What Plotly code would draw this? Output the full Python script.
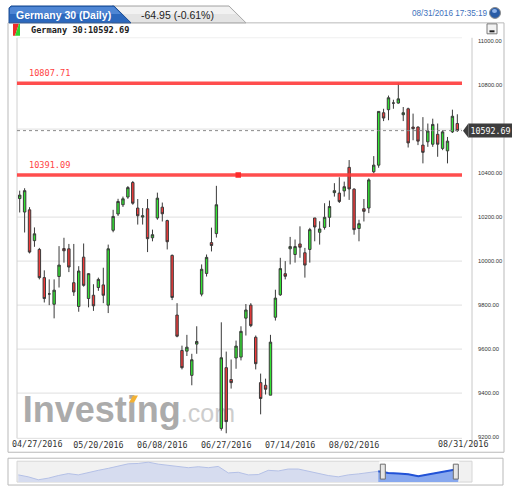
import plotly.graph_objects as go

W, H = 512, 494
def px(x): return x / W
def py(y): return 1 - y / H

# ---------------- data ----------------
instrument = "Germany 30"
change_text = "-64.95 (-0.61%)"
timestamp = "08/31/2016 17:35:19"
last_price = 10592.69
resistance = 10807.71
support = 10391.09

dates = [
    "04/27/2016", "04/28/2016", "04/29/2016",
    "05/02/2016", "05/03/2016", "05/04/2016", "05/05/2016", "05/06/2016",
    "05/09/2016", "05/10/2016", "05/11/2016", "05/12/2016", "05/13/2016",
    "05/17/2016", "05/18/2016", "05/19/2016", "05/20/2016",
    "05/23/2016", "05/24/2016", "05/25/2016", "05/26/2016", "05/27/2016",
    "05/30/2016", "05/31/2016", "06/01/2016", "06/02/2016", "06/03/2016",
    "06/06/2016", "06/07/2016", "06/08/2016", "06/09/2016", "06/10/2016",
    "06/13/2016", "06/14/2016", "06/15/2016", "06/16/2016", "06/17/2016",
    "06/20/2016", "06/21/2016", "06/22/2016", "06/23/2016", "06/24/2016",
    "06/27/2016", "06/28/2016", "06/29/2016", "06/30/2016", "07/01/2016",
    "07/04/2016", "07/05/2016", "07/06/2016", "07/07/2016", "07/08/2016",
    "07/11/2016", "07/12/2016", "07/13/2016", "07/14/2016", "07/15/2016",
    "07/18/2016", "07/19/2016", "07/20/2016", "07/21/2016", "07/22/2016",
    "07/25/2016", "07/26/2016", "07/27/2016", "07/28/2016", "07/29/2016",
    "08/01/2016", "08/02/2016", "08/03/2016", "08/04/2016", "08/05/2016",
    "08/08/2016", "08/09/2016", "08/10/2016", "08/11/2016", "08/12/2016",
    "08/15/2016", "08/16/2016", "08/17/2016", "08/18/2016", "08/19/2016",
    "08/22/2016", "08/23/2016", "08/24/2016", "08/25/2016", "08/26/2016",
    "08/29/2016", "08/30/2016", "08/31/2016",
]
opens = [10284, 10223, 10233, 10093, 10053, 9925, 9851, 9804, 9930, 10057,
         10056, 9902, 9794, 10018, 9830, 9845, 9880, 9892, 9800, 10140,
         10214, 10256, 10291, 10357, 10241, 10200, 10238, 10106, 10196, 10245,
         10184, 10026, 9755, 9594, 9591, 9481, 9623, 9850, 9944, 10084,
         10125, 9240, 9516, 9462, 9560, 9564, 9741, 9800, 9654, 9448,
         9436, 9391, 9745, 9847, 9943, 10056, 10030, 10078, 10038, 10053,
         10196, 10131, 10153, 10199, 10311, 10309, 10319, 10426, 10327, 10148,
         10238, 10241, 10406, 10436, 10674, 10688, 10718, 10718, 10665, 10692,
         10609, 10609, 10527, 10542, 10531, 10576, 10512, 10501, 10587, 10625]
highs = [10320, 10331, 10245, 10153, 10060, 9958, 9917, 9917, 10068, 10106,
         10078, 10078, 9977, 10080, 9945, 9895, 9925, 9970, 10075, 10233,
         10283, 10293, 10341, 10364, 10282, 10241, 10282, 10143, 10311, 10266,
         10188, 10030, 9809, 9616, 9665, 9579, 9704, 9985, 10030, 10152,
         10342, 9722, 9589, 9553, 9639, 9704, 9805, 9809, 9662, 9489,
         9466, 9665, 9870, 10015, 10000, 10110, 10098, 10158, 10060, 10151,
         10196, 10181, 10263, 10275, 10354, 10381, 10361, 10459, 10331, 10188,
         10282, 10376, 10477, 10680, 10692, 10752, 10733, 10807, 10700, 10697,
         10670, 10612, 10654, 10625, 10647, 10625, 10594, 10564, 10688, 10667]
lows = [10221, 10130, 10035, 10065, 9917, 9812, 9800, 9740, 9880, 9993,
        9950, 9842, 9770, 9884, 9790, 9774, 9865, 9809, 9764, 10131,
        10205, 10246, 10283, 10256, 10166, 10166, 10041, 10090, 10188, 10180,
        10053, 9823, 9654, 9508, 9569, 9436, 9579, 9840, 9930, 10044,
        10107, 9230, 9218, 9421, 9511, 9549, 9662, 9700, 9508, 9304,
        9394, 9391, 9730, 9842, 9917, 9985, 9993, 10015, 9925, 9993,
        10090, 10075, 10143, 10155, 10293, 10264, 10293, 10278, 10120, 10090,
        10180, 10218, 10399, 10424, 10636, 10640, 10692, 10715, 10636, 10516,
        10549, 10527, 10444, 10519, 10519, 10474, 10504, 10444, 10582, 10587]
closes = [10300, 10320, 10041, 10124, 9925, 9830, 9851, 9868, 9982, 10047,
          9973, 9860, 9955, 9890, 9943, 9797, 9917, 9845, 10056, 10203,
          10271, 10283, 10334, 10263, 10206, 10206, 10102, 10120, 10286, 10215,
          10088, 9835, 9659, 9516, 9609, 9552, 9635, 9963, 10017, 10071,
          10256, 9561, 9271, 9448, 9614, 9681, 9778, 9707, 9534, 9376,
          9418, 9632, 9832, 9966, 9931, 10066, 10066, 10063, 9982, 10143,
          10155, 10146, 10199, 10248, 10320, 10271, 10338, 10328, 10143, 10170,
          10226, 10369, 10436, 10680, 10650, 10742, 10718, 10737, 10674, 10537,
          10602, 10545, 10494, 10591, 10621, 10531, 10587, 10545, 10658, 10592.69]

date_ticks = ["05/20/2016", "06/08/2016", "06/27/2016", "07/14/2016", "08/02/2016"]
first_date_label = "04/27/2016"
last_date_label = "08/31/2016"
# 10600 sits behind the last-price tag in the reference, so it is not labelled
price_ticks = [9200, 9400, 9600, 9800, 10000, 10200, 10400, 10800, 11000]
grid_levels = [9400, 9600, 9800, 10000, 10200, 10600]

# navigator (long history overview, relative levels read from the strip)
nav_values = [30, 24, 15, 20, 28, 34, 30, 38, 44, 50, 57, 64, 65, 69, 63,
              60, 56, 52, 55, 52, 56, 36, 38, 30, 31, 44, 42, 48, 48, 41,
              35, 28, 24, 30, 33, 36, 41, 36, 34, 32, 26, 32, 36, 44, 48]
nav_sel_start = 36

# ---------------- figure ----------------
fig = go.Figure()

# watermark on the base (hidden) subplot so candles draw over it
fig.add_trace(go.Scatter(
    x=[0.013], y=[0.063], mode="text", xaxis="x", yaxis="y",
    text=["<b>Investing</b><span style='font-size:25px;color:#cdcdcd'>.com</span>"],
    textposition="middle right",
    textfont=dict(family="Liberation Sans", size=36, color="#ababab"),
    hoverinfo="skip", showlegend=False))

fig.add_trace(go.Candlestick(
    x=dates, open=opens, high=highs, low=lows, close=closes,
    xaxis="x2", yaxis="y2",
    increasing=dict(fillcolor="#33e333", line=dict(color="#3a3a3a", width=1)),
    decreasing=dict(fillcolor="#f03a3a", line=dict(color="#3a3a3a", width=1)),
    whiskerwidth=0, hoverinfo="skip", showlegend=False))

nav_x = list(range(len(nav_values)))
fig.add_trace(go.Scatter(
    x=nav_x, y=nav_values, xaxis="x3", yaxis="y3", mode="lines",
    line=dict(color="#b4c0e6", width=1), fill="tozeroy", fillcolor="#d6dcef",
    hoverinfo="skip", showlegend=False))
fig.add_trace(go.Scatter(
    x=nav_x[nav_sel_start:], y=nav_values[nav_sel_start:], xaxis="x3", yaxis="y3",
    mode="lines", line=dict(color="#2152d6", width=2), fill="tozeroy",
    fillcolor="#88a8ee", hoverinfo="skip", showlegend=False))

shapes = []
def rect(x0, y0, x1, y1, fill=None, line="#b8b8b8", width=1, layer="above"):
    shapes.append(dict(type="rect", xref="paper", yref="paper",
                       x0=px(x0), x1=px(x1), y0=py(y0), y1=py(y1),
                       fillcolor=fill if fill else "rgba(0,0,0,0)",
                       line=dict(color=line, width=width), layer=layer))
def seg(x0, y0, x1, y1, color="#cccccc", width=1, layer="above", dash="solid"):
    shapes.append(dict(type="line", xref="paper", yref="paper",
                       x0=px(x0), x1=px(x1), y0=py(y0), y1=py(y1),
                       line=dict(color=color, width=width, dash=dash), layer=layer))
def poly(points, fill, line="rgba(0,0,0,0)", width=1, layer="above"):
    d = "M " + " L ".join(f"{px(a):.5f},{py(b):.5f}" for a, b in points) + " Z"
    shapes.append(dict(type="path", xref="paper", yref="paper", path=d,
                       fillcolor=fill, line=dict(color=line, width=width), layer=layer))

# main frame
rect(8, 22, 504, 454, line="#b9b9b9")
seg(17, 37, 17, 440, color="#d0d0d0")
seg(472, 37, 472, 448, color="#c8c8c8")
seg(17, 37, 462, 37, color="#efefef")
seg(17, 440, 462, 440, color="#dedede")

# horizontal grid lines (drawn below the candles)
for g in grid_levels:
    shapes.append(dict(type="line", xref="paper", yref="y2", x0=px(17), x1=px(462),
                       y0=g, y1=g, line=dict(color="#e6e6e6", width=1.2), layer="below"))

# tabs
poly([(112, 22), (112, 5), (229, 5), (246, 22)], "#e4e4e4", line="#a9a9a9")
poly([(113, 6), (229, 6), (236, 13), (113, 13)], "#f2f2f2")
poly([(9, 22), (9, 7), (11, 5), (114, 5), (131, 22)], "#2c68bd", line="#1f4f94")
poly([(10, 13), (10, 7), (12, 6), (114, 6), (121, 13)], "#4f86d4")

# header icon
poly([(13, 23), (19, 23), (15, 35), (13, 35)], "#ee2c2c")
poly([(19, 23), (20, 23), (20, 35), (15, 35)], "#2fd52f")

# minimise button
shapes.append(dict(type="rect", xref="paper", yref="paper", x0=px(487), x1=px(497),
                   y0=py(33), y1=py(23), fillcolor="#f2f2f2",
                   line=dict(color="#7a7a7a", width=1)))
seg(489.5, 30.5, 494.5, 30.5, color="#222222", width=2)

# sphere icon
shapes.append(dict(type="circle", xref="paper", yref="paper", x0=px(489.5), x1=px(500.5),
                   y0=py(17.5), y1=py(6.5), fillcolor="#2a5ca6",
                   line=dict(color="#8c8c8c", width=1)))
shapes.append(dict(type="circle", xref="paper", yref="paper", x0=px(492), x1=px(497),
                   y0=py(12), y1=py(8), fillcolor="#8fb3ea", line=dict(width=0)))

# support / resistance lines
for lvl in (resistance, support):
    shapes.append(dict(type="line", xref="paper", yref="y2", x0=px(17), x1=px(462),
                       y0=lvl, y1=lvl, line=dict(color="rgba(255,58,58,0.9)", width=3.5)))
shapes.append(dict(type="rect", xref="paper", yref="y2", x0=px(235.5), x1=px(241),
                   ysizemode="pixel", yanchor=support, y0=-2.8, y1=2.8,
                   fillcolor="#ff2a2a", line=dict(width=0)))

# last price dotted line + tag arrow
shapes.append(dict(type="line", xref="paper", yref="y2", x0=px(17), x1=px(462),
                   y0=last_price, y1=last_price,
                   line=dict(color="#8a8a8a", width=1, dash="dot")))
shapes.append(dict(type="path", xref="paper", yref="y2",
                   path=f"M {px(463):.5f},{last_price} L {px(468.5):.5f},{last_price + 34} "
                        f"L {px(468.5):.5f},{last_price - 34} Z",
                   fillcolor="#3d3d3d", line=dict(width=0)))

# navigator frame
rect(8, 460, 503, 487, line="#b9b9b9")
rect(17, 463, 472, 484, fill="#f1f1f1", line="#d6d6d6", layer="below")
shapes.append(dict(type="rect", xref="x3", yref="paper", x0=nav_sel_start + 0.1,
                   x1=len(nav_values) - 0.9, y0=py(484), y1=py(463),
                   fillcolor="#ffffff", line=dict(width=0), layer="below"))
for hx in (nav_sel_start + 0.45, len(nav_values) - 1.25):
    shapes.append(dict(type="rect", xref="x3", yref="paper", xsizemode="pixel",
                       xanchor=hx, x0=-2.5, x1=2.5, y0=py(481), y1=py(466),
                       fillcolor="#e6e6e6", line=dict(color="#6e6e6e", width=1)))

# orange accent over the "i" of the watermark
poly([(129, 404), (133, 397), (138, 397), (134, 404)], "#f2b134")

annotations = [
    dict(text="<b>Germany 30 (Daily)</b>", x=px(14), y=py(14), xref="paper", yref="paper",
         xanchor="left", yanchor="middle", showarrow=False,
         font=dict(family="Liberation Sans", size=10.5, color="white")),
    dict(text=change_text, x=px(139), y=py(14.5), xref="paper", yref="paper",
         xanchor="left", yanchor="middle", showarrow=False,
         font=dict(family="Liberation Sans", size=10.5, color="#1e1e1e")),
    dict(text=timestamp, x=px(410), y=py(13), xref="paper", yref="paper",
         xanchor="left", yanchor="middle", showarrow=False,
         font=dict(family="Liberation Sans", size=8.2, color="#3e71bc")),
    dict(text=f"<b>{instrument}:{last_price:.2f}</b>", x=px(29), y=py(29.5),
         xref="paper", yref="paper", xanchor="left", yanchor="middle", showarrow=False,
         font=dict(family="DejaVu Sans Mono", size=8.6, color="#222222")),
    dict(text=f"{resistance:.2f}", x=px(27), y=resistance, xref="paper", yref="y2",
         yshift=10, xanchor="left", yanchor="middle", showarrow=False,
         font=dict(family="DejaVu Sans Mono", size=8.6, color="#ff4343")),
    dict(text=f"{support:.2f}", x=px(27), y=support, xref="paper", yref="y2",
         yshift=10.5, xanchor="left", yanchor="middle", showarrow=False,
         font=dict(family="DejaVu Sans Mono", size=8.6, color="#ff4343")),
    dict(text=f"{last_price:.2f}", x=px(468), y=last_price, xref="paper", yref="y2",
         xanchor="left", yanchor="middle", showarrow=False, bgcolor="#3d3d3d",
         borderpad=1.5, font=dict(family="DejaVu Sans Mono", size=8.3, color="white")),
    dict(text=first_date_label, x=first_date_label, xref="x2", y=py(446), yref="paper",
         xanchor="left", xshift=-10, yanchor="middle", showarrow=False,
         font=dict(family="DejaVu Sans Mono", size=8.4, color="#333333")),
    dict(text=last_date_label, x=last_date_label, xref="x2", y=py(446), yref="paper",
         xanchor="center", xshift=6, yanchor="middle", showarrow=False,
         font=dict(family="DejaVu Sans Mono", size=8.4, color="#333333")),
]

n = len(dates)
fig.update_layout(
    width=W, height=H, autosize=False,
    margin=dict(l=0, r=0, t=0, b=0),
    paper_bgcolor="white", plot_bgcolor="white",
    showlegend=False, hovermode=False,
    shapes=shapes, annotations=annotations,
    xaxis=dict(domain=[px(17), px(462)], range=[0, 1], visible=False, anchor="y"),
    yaxis=dict(domain=[py(440), py(38)], range=[0, 1], visible=False, anchor="x"),
    xaxis2=dict(overlaying="x", anchor="y2", type="category", categoryorder="array",
                categoryarray=dates, range=[-0.55, n - 0.05],
                tickvals=date_ticks, ticktext=date_ticks, ticks="", showgrid=False,
                zeroline=False, showline=False,
                tickfont=dict(family="DejaVu Sans Mono", size=8.4, color="#333333"),
                rangeslider=dict(visible=False)),
    yaxis2=dict(overlaying="y", anchor="x2", side="right", range=[9195, 11010],
                tickvals=price_ticks, tickformat=".2f", ticks="",
                ticklabelstandoff=15, showgrid=False, zeroline=False, showline=False,
                tickfont=dict(family="Liberation Sans", size=5.8, color="#333333")),
    xaxis3=dict(domain=[px(17), px(472)], range=[-0.13, 45.37], visible=False, anchor="y3"),
    yaxis3=dict(domain=[py(484), py(463)], range=[8, 72], visible=False, anchor="x3"),
)

fig.write_html("out.html", config={"displayModeBar": False},
               post_script="document.body.style.margin='0';"
                           "document.body.style.overflow='hidden';")
